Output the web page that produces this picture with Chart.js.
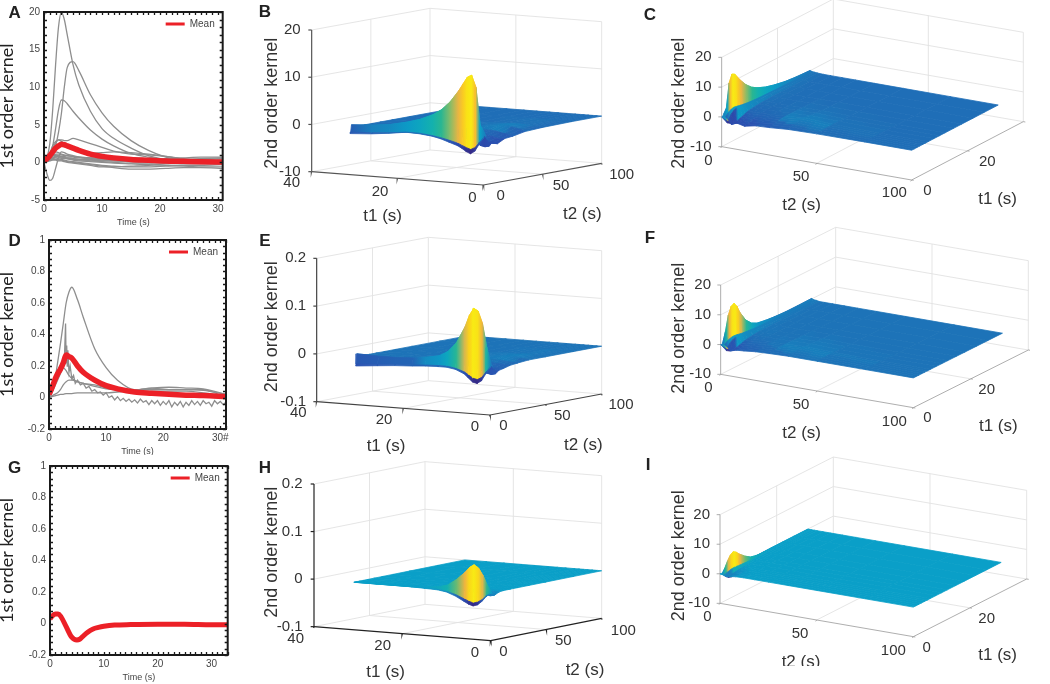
<!DOCTYPE html>
<html>
<head>
<meta charset="utf-8">
<script src="https://cdn.jsdelivr.net/npm/chart.js@4"></script>
<style>
  body { margin: 0; background: #fff; width: 1050px; height: 684px; overflow: hidden; position: relative; }
  canvas { position: absolute; }
</style>
</head>
<body>
<script>
// 1st order kernels
const timeGrid = [0, 0.5, 1, 1.5, 2, 2.5, 3, 3.5, 4, 5, 6, 8, 10, 12, 15, 18, 21, 24, 27, 31];
const timeTicks = [0, 10, 20, 30];

const subjectsA = [
  [0, 0.6, 2.5, 7, 13, 18, 20, 19, 17, 13, 10.3, 6.8, 4.5, 3.2, 1.9, 0.9, 0.4, 0.2, 0.1, 0],
  [0, 0.1, 0.4, 1, 2.2, 4, 6.5, 10, 12.6, 13.4, 12.2, 9, 6.6, 4.8, 2.9, 1.6, 0.7, 0.2, 0, -0.2],
  [0, 0.3, 1, 2.2, 4.5, 7, 8.3, 8.2, 7.8, 6.8, 5.9, 4.3, 3.1, 2.2, 1.2, 0.7, 0.4, 0.2, 0.1, 0],
  [0, 0.3, 1, 1.8, 2.6, 3, 3, 2.9, 2.9, 3.2, 3, 2.5, 2, 1.5, 1.1, 1, 0.8, 0.5, 0.2, 0],
  [0, 0.4, 1.2, 2.2, 2.8, 3, 2.8, 2.5, 2.2, 1.8, 1.5, 1.2, 1.3, 1.4, 1.3, 1.1, 0.8, 0.4, 0.2, 0.1],
  [0, -1.5, -2.4, -2.1, -0.8, 0.6, 1.4, 1.3, 1.1, 0.9, 0.7, 0.5, 0.3, 0.2, 0.1, 0, -0.1, -0.2, -0.2, -0.2],
  [0.2, 0.5, 0.8, 1, 1.1, 1.1, 1, 0.9, 0.9, 0.8, 0.7, 0.6, 0.5, 0.5, 0.4, 0.4, 0.5, 0.6, 0.7, 0.7],
  [0.1, 0.3, 0.5, 0.7, 0.8, 0.8, 0.7, 0.7, 0.6, 0.5, 0.4, 0.2, 0.1, 0, -0.1, -0.1, 0, 0.2, 0.4, 0.5],
  [0, 0.2, 0.4, 0.5, 0.6, 0.5, 0.4, 0.3, 0.2, 0.1, 0, -0.2, -0.4, -0.5, -0.6, -0.6, -0.5, -0.4, -0.4, -0.3],
  [0, 0.1, 0.3, 0.4, 0.4, 0.3, 0.3, 0.2, 0.1, 0, -0.1, -0.3, -0.5, -0.7, -0.9, -0.9, -0.8, -0.7, -0.7, -0.8],
  [0.3, 0.6, 0.9, 1.2, 1.4, 1.3, 1.1, 1, 0.9, 0.8, 0.7, 0.6, 0.6, 0.6, 0.6, 0.5, 0.4, 0.3, 0.3, 0.3],
  [0.1, 0.3, 0.6, 0.9, 1, 0.9, 0.8, 0.6, 0.5, 0.3, 0.2, 0.1, 0, -0.1, -0.2, -0.3, -0.4, -0.5, -0.6, -0.6],
  [0, 0.2, 0.3, 0.4, 0.4, 0.4, 0.5, 0.5, 0.5, 0.5, 0.4, 0.4, 0.3, 0.3, 0.2, 0.2, 0.2, 0.1, 0.1, 0.1],
  [0.1, 0.2, 0.4, 0.6, 0.7, 0.7, 0.6, 0.6, 0.5, 0.4, 0.3, 0.3, 0.2, 0.2, 0.1, 0.1, 0.3, 0.4, 0.5, 0.6],
  [0.2, 0.4, 0.7, 0.9, 0.9, 0.8, 0.8, 0.8, 0.7, 0.7, 0.6, 0.5, 0.4, 0.3, 0.3, 0.2, 0.1, 0, -0.1, -0.1],
  [0, 0.1, 0.2, 0.3, 0.3, 0.2, 0.2, 0.1, 0, -0.1, -0.2, -0.4, -0.6, -0.6, -0.5, -0.4, -0.2, -0.1, 0, 0.2]
];
const meanA = [0.2, 0.5, 0.9, 1.4, 1.9, 2.2, 2.4, 2.35, 2.2, 1.9, 1.6, 1.1, 0.8, 0.6, 0.4, 0.3, 0.2, 0.15, 0.1, 0.05];

const subjectsD = [
  [0, 0.03, 0.1, 0.22, 0.34, 0.47, 0.6, 0.67, 0.7, 0.62, 0.51, 0.31, 0.19, 0.11, 0.05, 0.06, 0.065, 0.06, 0.055, 0.02],
  [0, 0.01, 0.02, 0.03, 0.05, 0.08, 0.1, 0.11, 0.11, 0.1, 0.09, 0.07, 0.055, 0.05, 0.05, 0.05, 0.05, 0.05, 0.05, 0],
  [0, 0.005, 0.01, 0.015, 0.02, 0.02, 0.025, 0.025, 0.025, 0.03, 0.03, 0.03, 0.03, 0.035, 0.045, 0.06, 0.05, 0.05, 0.045, 0.02],
  [0, 0.06, 0.12, 0.17, 0.2, 0.19, 0.17, 0.14, 0.12, 0.1, 0.09, 0.08, 0.06, 0.05, 0.04, 0.04, 0.04, 0.04, 0.03, 0.01]
];
const noisyTimeD = [0, 0.5, 1, 1.5, 2, 2.4, 2.7, 2.9, 3, 3.1, 3.2, 3.3, 3.5, 3.7, 4, 4.3, 4.6, 5, 5.5, 6, 6.5, 7, 7.5, 8, 8.5, 9, 9.5, 10, 10.5, 11, 11.5, 12, 12.5, 13, 13.5, 14, 14.5, 15, 15.5, 16, 16.5, 17, 17.5, 18, 18.5, 19, 19.5, 20, 20.5, 21, 21.5, 22, 22.5, 23, 23.5, 24, 24.5, 25, 25.5, 26, 26.5, 27, 27.5, 28, 28.5, 29, 29.5, 30, 30.5, 31];
const noisyD = [0, 0.03, 0.07, 0.11, 0.15, 0.19, 0.25, 0.47, 0.22, 0.33, 0.2, 0.3, 0.16, 0.2, 0.12, 0.14, 0.09, 0.11, 0.08, 0.09, 0.06, 0.07, 0.04, 0.05, 0.03, 0.035, 0.015, 0.03, 0, 0.01, -0.015, 0.005, -0.02, -0.005, -0.025, -0.01, -0.03, -0.015, -0.035, -0.01, -0.03, -0.02, -0.045, -0.02, -0.04, -0.02, -0.05, -0.025, -0.045, -0.02, -0.06, -0.03, -0.05, -0.025, -0.06, -0.03, -0.05, -0.02, -0.045, -0.025, -0.05, -0.02, -0.04, -0.03, -0.055, -0.02, -0.04, -0.025, -0.045, -0.03];
const meanD = [0.02, 0.06, 0.11, 0.15, 0.18, 0.22, 0.27, 0.26, 0.25, 0.2, 0.16, 0.11, 0.075, 0.055, 0.035, 0.027, 0.02, 0.015, 0.012, 0.005];

const timeG = [0, 0.5, 1, 1.5, 2, 3, 4, 5, 5.5, 6, 7, 8, 9, 10, 12, 15, 20, 25, 30, 33];
const meanG = [0.03, 0.05, 0.06, 0.06, 0.045, -0.02, -0.085, -0.105, -0.1, -0.085, -0.055, -0.035, -0.025, -0.018, -0.01, -0.007, -0.005, -0.005, -0.008, -0.008];

// 2nd order kernels, rows follow t1Grid and columns follow t2Grid
const t1Grid = [0, 1, 2, 3, 4, 5, 6, 8, 10, 12, 15, 18, 22, 26, 31];
const t2Grid = [0, 0.3, 1, 2, 3.5, 5, 8, 12, 18, 25, 35, 50, 75, 100];

const kernelTop = [
  [0, 0, 1, 0.2, -0.6, -2, -1.2, -1.8, -1, -0.8, -0.3, -0.1, 0, 0],
  [-1.5, -1.1, 2.5, 1.2, 0.8, -2.2, -1.5, -1.8, -1.2, -0.6, 0.1, -0.1, 0, 0],
  [-3, -2.2, 10.5, 1.8, 1.6, -2, -1.3, -1.5, -1, -0.4, 0.3, 0, 0, 0],
  [-3.6, -2.7, 13, 2, 2, -1.5, -1, -1, -0.7, -0.2, 0.5, 0.1, 0, 0],
  [-3.2, -2.4, 12.5, 1.8, 1.9, -1.2, -0.8, -0.7, -0.5, 0, 0.7, 0.2, 0, 0],
  [-2.6, -2, 11, 1.6, 1.7, -0.8, -0.5, -0.5, -0.3, 0.1, 0.8, 0.2, 0, 0],
  [-2.1, -1.6, 9.5, 1.4, 1.5, -0.5, -0.4, -0.4, -0.2, 0.1, 0.7, 0.2, 0, 0],
  [-1.5, -1.1, 7, 1.1, 1.2, -0.2, -0.2, -0.2, -0.1, 0.1, 0.5, 0.2, 0, 0],
  [-0.9, -0.7, 5.2, 0.9, 1, 0, -0.1, -0.1, 0, 0.1, 0.3, 0.1, 0, 0],
  [-0.5, -0.4, 4, 0.8, 0.9, 0.1, 0, 0, 0, 0.1, 0.2, 0.1, 0, 0],
  [-0.2, -0.1, 2.8, 0.7, 0.7, 0.2, 0.1, 0, 0, 0, 0.1, 0, 0, 0],
  [-0.1, -0.1, 2, 0.6, 0.6, 0.2, 0.1, 0, 0, 0, 0, 0, 0, 0],
  [-0.6, -0.5, 1.2, 0.5, 0.5, 0.2, 0.1, 0, 0, 0, 0, 0, 0, 0],
  [-1, -0.8, 0.8, 0.4, 0.3, 0.2, 0, 0, 0, 0, 0, 0, 0, 0],
  [-1.3, -1, 0.5, 0.3, 0.2, 0.1, 0, 0, 0, 0, 0, 0, 0, 0]
];
const kernelMid = [
  [0, 0, 0.5, 0.1, -0.4, -1.6, -1, -0.8, -0.4, -0.2, 0, 0, 0, 0],
  [-1.5, -1.1, 4, 1, 0.6, -1.8, -1.1, -0.8, -0.4, -0.2, 0.1, 0, 0, 0],
  [-3, -2.3, 9, 1.4, 1.2, -1.6, -1, -0.7, -0.3, -0.1, 0.2, 0.1, 0, 0],
  [-3.6, -2.8, 11.5, 1.6, 1.5, -1.2, -0.7, -0.5, -0.2, 0, 0.4, 0.1, 0, 0],
  [-3.4, -2.6, 12, 1.5, 1.5, -0.9, -0.5, -0.3, -0.1, 0.1, 0.5, 0.2, 0, 0],
  [-2.6, -2, 10.5, 1.3, 1.2, -0.6, -0.3, -0.2, 0, 0.1, 0.5, 0.2, 0, 0],
  [-1.8, -1.4, 8, 1.1, 1, -0.4, -0.2, -0.1, 0, 0.1, 0.4, 0.1, 0, 0],
  [-1, -0.8, 4.5, 0.9, 0.8, -0.1, 0, 0, 0, 0.1, 0.3, 0.1, 0, 0],
  [-0.7, -0.5, 2.5, 0.7, 0.7, 0.1, 0.1, 0, 0, 0, 0.2, 0.1, 0, 0],
  [-0.7, -0.5, 1.5, 0.6, 0.5, 0.1, 0.1, 0, 0, 0, 0.1, 0, 0, 0],
  [-0.8, -0.6, 1, 0.5, 0.4, 0.1, 0, 0, 0, 0, 0, 0, 0, 0],
  [-1, -0.8, 0.7, 0.4, 0.3, 0.1, 0, 0, 0, 0, 0, 0, 0, 0],
  [-1.2, -0.9, 0.5, 0.3, 0.2, 0.1, 0, 0, 0, 0, 0, 0, 0, 0],
  [-1.5, -1.2, 0.5, 0.3, 0.2, 0, 0, 0, 0, 0, 0, 0, 0, 0],
  [-1.9, -1.5, 0.6, 0.3, 0.2, 0, 0, 0, 0, 0, 0, 0, 0, 0]
];
const kernelLow = [
  [0, 0, 0, -0.3, -0.6, -0.4, -0.1, 0, 0, 0, 0, 0, 0, 0],
  [-0.8, -0.6, 1.5, 0.1, -0.8, -0.5, -0.1, 0, 0, 0, 0, 0, 0, 0],
  [-1.9, -1.5, 3.5, 0.4, -0.6, -0.4, -0.1, 0, 0, 0, 0, 0, 0, 0],
  [-2.7, -2.1, 5, 0.6, -0.4, -0.3, -0.1, 0, 0, 0, 0, 0, 0, 0],
  [-3, -2.4, 5.6, 0.6, -0.3, -0.2, 0, 0, 0, 0, 0, 0, 0, 0],
  [-2.7, -2.1, 5, 0.5, -0.2, -0.1, 0, 0, 0, 0, 0, 0, 0, 0],
  [-2.2, -1.7, 3.9, 0.4, -0.1, 0, 0, 0, 0, 0, 0, 0, 0, 0],
  [-1.2, -0.9, 2.2, 0.3, 0, 0, 0, 0, 0, 0, 0, 0, 0, 0],
  [-0.5, -0.4, 0.9, 0.1, 0, 0, 0, 0, 0, 0, 0, 0, 0, 0],
  [-0.2, -0.1, 0.4, 0.1, 0, 0, 0, 0, 0, 0, 0, 0, 0, 0],
  [-0.1, 0, 0.1, 0, 0, 0, 0, 0, 0, 0, 0, 0, 0, 0],
  [0, 0, 0, 0, 0, 0, 0, 0, 0, 0, 0, 0, 0, 0],
  [0, 0, 0, 0, 0, 0, 0, 0, 0, 0, 0, 0, 0, 0],
  [0, 0, 0, 0, 0, 0, 0, 0, 0, 0, 0, 0, 0, 0],
  [0, 0, 0, 0, 0, 0, 0, 0, 0, 0, 0, 0, 0, 0]
];

const zTicksLarge = [-10, 0, 10, 20];
const zTicksSmall = [-0.1, 0, 0.1, 0.2];
const t1Ticks = [0, 20, 40];
const t2Ticks = [0, 50, 100];

const parulaStops = [
  [0, [53, 42, 135]], [0.1, [42, 79, 176]], [0.22, [31, 111, 183]], [0.35, [10, 159, 200]],
  [0.45, [18, 176, 176]], [0.55, [47, 184, 138]], [0.65, [140, 188, 102]], [0.75, [222, 184, 74]],
  [0.82, [243, 179, 59]], [0.9, [251, 208, 28]], [1, [248, 234, 20]]
];

function parula(f) {
  f = Math.max(0, Math.min(1, f));
  for (let i = 1; i < parulaStops.length; i++) {
    if (f <= parulaStops[i][0]) {
      const [a, ca] = parulaStops[i - 1];
      const [b, cb] = parulaStops[i];
      const k = (f - a) / (b - a);
      return `rgb(${ca.map((c, n) => Math.round(c + (cb[n] - c) * k)).join(',')})`;
    }
  }
  return 'rgb(248,234,20)';
}

// ---------- left column ----------
const greyLine = '#8e8e8e';
const red = '#ec2027';

const framePlugin = {
  id: 'frame',
  afterLayout(chart) {
    // keep the legend inside the top right corner of the box
    const legend = chart.legend;
    legend.left = chart.chartArea.right - legend.width + 2;
    legend.top = chart.chartArea.top;
  },
  afterDraw(chart, args, opts) {
    const { ctx, chartArea: a, scales: { x, y } } = chart;
    ctx.save();
    ctx.strokeStyle = '#1a1a1a';
    ctx.lineWidth = 1.3;
    const tickMarks = (scale, step, len, horizontal) => {
      const count = Math.floor((scale.max - scale.min) / step + 1e-6);
      for (let n = 0; n <= count; n++) {
        const p = Math.round(scale.getPixelForValue(scale.min + n * step)) + 0.5;
        ctx.beginPath();
        if (horizontal) {
          ctx.moveTo(p, a.bottom); ctx.lineTo(p, a.bottom - len);
          ctx.moveTo(p, a.top); ctx.lineTo(p, a.top + len);
        } else {
          ctx.moveTo(a.left, p); ctx.lineTo(a.left + len, p);
          ctx.moveTo(a.right, p); ctx.lineTo(a.right - len, p);
        }
        ctx.stroke();
      }
    };
    tickMarks(x, opts.minorX, 3, true);
    tickMarks(y, opts.minorY, 3, false);
    ctx.lineWidth = 2;
    ctx.strokeRect(a.left, a.top, a.right - a.left, a.bottom - a.top);
    ctx.font = 'bold 17px "Liberation Sans"';
    ctx.fillStyle = '#222';
    ctx.textAlign = 'center';
    ctx.textBaseline = 'middle';
    ctx.fillText(opts.letter, 14.7, opts.letterY);
    ctx.restore();
  }
};

function curve(times, values) {
  return times.map((t, i) => ({ x: t, y: values[i] }));
}

function kernelChart(id, cfg) {
  const canvas = document.getElementById(id);
  canvas.width = 240;
  canvas.height = 230;
  canvas.style.left = '0px';
  canvas.style.top = cfg.top + 'px';
  const tickFont = { family: 'Liberation Sans', size: 10 };
  return new Chart(canvas, {
    type: 'scatter',
    data: { datasets: cfg.datasets },
    options: {
      responsive: false,
      animation: false,
      events: [],
      layout: { padding: { top: cfg.box[1], right: 240 - cfg.box[2], bottom: 230 - cfg.box[3] - 28, left: 0 } },
      elements: { point: { radius: 0 } },
      plugins: {
        tooltip: { enabled: false },
        frame: { minorX: cfg.minorX, minorY: cfg.minorY, letter: cfg.letter, letterY: cfg.letterY },
        legend: {
          position: 'chartArea',
          align: 'start',
          labels: {
            usePointStyle: true,
            pointStyle: 'line',
            pointStyleWidth: 19,
            padding: 7,
            color: '#444',
            font: { family: 'Liberation Sans', size: 10 },
            generateLabels(chart) {
              return Chart.defaults.plugins.legend.labels.generateLabels(chart)
                .filter(item => item.text === 'Mean')
                .map(item => ({ ...item, lineWidth: 3 }));
            }
          }
        }
      },
      scales: {
        x: {
          type: 'linear',
          min: 0,
          max: cfg.xMax,
          afterFit(scale) { scale.height = 28; },
          afterBuildTicks(scale) { scale.ticks = timeTicks.map(value => ({ value })); },
          grid: { display: false, drawTicks: false },
          border: { display: false },
          ticks: {
            maxRotation: 0,
            autoSkip: false,
            padding: 3,
            color: '#444',
            font: tickFont,
            callback: cfg.xLabel || (v => v)
          },
          title: { display: true, text: 'Time (s)', color: '#444', font: { family: 'Liberation Sans', size: 9 }, padding: { top: 0, bottom: 0 } }
        },
        y: {
          min: cfg.yMin,
          max: cfg.yMax,
          afterFit(scale) { scale.width = cfg.box[0]; },
          grid: { display: false, drawTicks: false },
          border: { display: false },
          ticks: {
            stepSize: cfg.majorY,
            padding: 4,
            color: '#444',
            font: tickFont,
            callback: v => String(Math.round(v * 10) / 10)
          },
          title: { display: true, text: '1st order kernel', color: '#222', font: { family: 'Lato', size: 18, lineHeight: 0.85 }, padding: 0 }
        }
      }
    },
    plugins: [framePlugin]
  });
}

function greyDataset(times, values, n, jagged) {
  return {
    label: 'Subject ' + n,
    data: curve(times, values),
    showLine: true,
    borderColor: greyLine,
    borderWidth: 1.3,
    cubicInterpolationMode: jagged ? 'default' : 'monotone'
  };
}

function meanDataset(times, values, width) {
  return {
    label: 'Mean',
    data: curve(times, values),
    showLine: true,
    borderColor: red,
    borderWidth: width,
    cubicInterpolationMode: 'monotone'
  };
}

// ---------- 3D panels, coordinates in units of a third of a pixel ----------
const panels = [
  { id: 'panelB', left: 240, top: 0, kernel: kernelTop, zFactor: 1, front: 'corner', zTicks: zTicksLarge, letter: 'B', letterAt: [75, 37],
    origin: [730, 555], t1End: [215, 515], t2End: [1085, 490], zTopY: 90, axisColor: '#555', axisWidth: 1.2,
    zLabelX: 182, ticksFirst: [[697, 593], [420, 575], [155, 548]], ticksSecond: [[782, 587], [963, 557], [1145, 525]],
    titleFirst: [428, 650], titleSecond: [1027, 642], titleZ: [95, 310] },
  { id: 'panelC', left: 630, top: 0, kernel: kernelTop, zFactor: 1, front: 'side', zTicks: zTicksLarge, letter: 'C', letterAt: [0, 45],
    origin: [215, 440], t1End: [550, 265], t2End: [785, 540], zTopY: 172, axisColor: '#999', axisWidth: 0.8,
    zLabelX: 185, ticksFirst: [[832, 572], [1012, 487], [1175, 398]], ticksSecond: [[175, 482], [453, 532], [733, 580]],
    titleFirst: [1043, 597], titleSecond: [455, 617], titleZ: [88, 310] },
  { id: 'panelE', left: 240, top: 225, kernel: kernelMid, zFactor: 0.01, front: 'corner', zTicks: zTicksSmall, letter: 'E', letterAt: [75, 48],
    origin: [750, 570], t1End: [230, 530], t2End: [1085, 507], zTopY: 100, axisColor: '#444', axisWidth: 1.2,
    zLabelX: 198, ticksFirst: [[705, 607], [432, 585], [175, 565]], ticksSecond: [[790, 603], [967, 572], [1143, 540]],
    titleFirst: [438, 663], titleSecond: [1030, 660], titleZ: [95, 305] },
  { id: 'panelF', left: 630, top: 225, kernel: kernelMid, zFactor: 1, front: 'side', zTicks: zTicksLarge, letter: 'F', letterAt: [0, 40],
    origin: [212, 448], t1End: [557, 275], t2End: [790, 548], zTopY: 180, axisColor: '#999', axisWidth: 0.8,
    zLabelX: 183, ticksFirst: [[832, 580], [1010, 495], [1178, 408]], ticksSecond: [[175, 490], [453, 540], [733, 590]],
    titleFirst: [1045, 605], titleSecond: [455, 625], titleZ: [88, 310] },
  { id: 'panelH', left: 240, top: 454, kernel: kernelLow, zFactor: 0.01, front: 'corner', zTicks: zTicksSmall, letter: 'H', letterAt: [75, 42],
    origin: [752, 560], t1End: [222, 518], t2End: [1085, 493], zTopY: 90, axisColor: '#222', axisWidth: 1.2,
    zLabelX: 188, ticksFirst: [[705, 597], [428, 575], [167, 555]], ticksSecond: [[790, 593], [970, 562], [1150, 530]],
    titleFirst: [437, 655], titleSecond: [1035, 650], titleZ: [95, 295] },
  { id: 'panelI', left: 630, top: 454, height: 212, kernel: kernelLow, zFactor: 1, front: 'side', zTicks: zTicksLarge, letter: 'I', letterAt: [-6, 33],
    origin: [210, 448], t1End: [550, 275], t2End: [790, 548], zTopY: 182, axisColor: '#999', axisWidth: 0.8,
    zLabelX: 180, ticksFirst: [[830, 582], [1010, 495], [1175, 410]], ticksSecond: [[172, 490], [450, 540], [730, 590]],
    titleFirst: [1043, 605], titleSecond: [453, 625], titleZ: [88, 305] }
];

function project(p, t1, t2, z) {
  const zMin = p.zTicks[0];
  const zMax = p.zTicks[p.zTicks.length - 1];
  // the top tick was read on the z axis, which stands on a different floor corner per view
  const floorY = p.front === 'corner' ? p.t1End[1] : p.origin[1];
  const zStep = (floorY - p.zTopY) / (zMax - zMin);
  return {
    x: p.origin[0] + (p.t1End[0] - p.origin[0]) * t1 / 40 + (p.t2End[0] - p.origin[0]) * t2 / 100,
    y: p.origin[1] + (p.t1End[1] - p.origin[1]) * t1 / 40 + (p.t2End[1] - p.origin[1]) * t2 / 100 - (z - zMin) * zStep
  };
}

function surfaceLayers(p) {
  const values = p.kernel.flat();
  const lo = Math.min(...values);
  const hi = Math.max(...values);
  const shade = z => parula((z - lo) / (hi - lo));
  const strongest = (a, b) => (Math.abs(a) > Math.abs(b) ? a : b);
  const layers = [];
  const rows = [];
  for (let i = t1Grid.length - 2; i >= 0; i--) rows.push(i);
  const cols = [];
  for (let j = 0; j < t2Grid.length - 1; j++) cols.push(j);
  if (p.front === 'corner') cols.reverse();

  rows.forEach(i => {
    cols.forEach(j => {
      const corner = (a, b) => project(p, t1Grid[a], t2Grid[b], p.kernel[a][b] * p.zFactor);
      const pts = [corner(i, j), corner(i, j + 1), corner(i + 1, j + 1), corner(i + 1, j), corner(i, j)];
      const colourA = shade(strongest(p.kernel[i][j], p.kernel[i][j + 1]));
      const colourB = shade(strongest(p.kernel[i + 1][j], p.kernel[i + 1][j + 1]));
      const paint = ctx => {
        if (colourA === colourB) return colourA;
        const { x } = ctx.chart.scales;
        // side to side only, so the colour bands stay upright like the original facets
        const x0 = x.getPixelForValue((pts[0].x + pts[1].x) / 2);
        const x1 = x.getPixelForValue((pts[2].x + pts[3].x) / 2);
        if (!Number.isFinite(x0) || !Number.isFinite(x1) || x0 === x1) return colourA;
        const g = ctx.chart.ctx.createLinearGradient(x0, 0, x1, 0);
        g.addColorStop(0, colourA);
        g.addColorStop(1, colourB);
        return g;
      };
      layers.push({
        data: pts,
        showLine: true,
        fill: 'shape',
        tension: 0,
        backgroundColor: paint,
        borderColor: paint,
        borderWidth: 0.8
      });
    });
  });
  return layers;
}

function segment(points, color, width) {
  return { data: points, showLine: true, fill: false, tension: 0, borderColor: color, borderWidth: width };
}

function boxLayers(p) {
  const light = '#e2e2e2';
  const out = [];
  const zMin = p.zTicks[0];
  const zMax = p.zTicks[p.zTicks.length - 1];
  const corner = p.front === 'corner';
  const wallT2 = corner ? 100 : 0;
  p.zTicks.forEach(z => {
    if (corner) {
      out.push(segment([project(p, 40, 0, z), project(p, 40, 100, z), project(p, 0, 100, z)], light, 0.9));
    } else {
      out.push(segment([project(p, 0, 0, z), project(p, 40, 0, z), project(p, 40, 100, z)], light, 0.9));
    }
  });
  const up = (t1, t2) => segment([project(p, t1, t2, zMin), project(p, t1, t2, zMax)], light, 0.9);
  out.push(up(40, wallT2), up(20, wallT2), up(40, 50), up(corner ? 0 : 40, 100));
  out.push(segment([project(p, 20, 0, zMin), project(p, 20, 100, zMin)], light, 0.9));
  out.push(segment([project(p, 0, 50, zMin), project(p, 40, 50, zMin)], light, 0.9));
  return out;
}

function axisLayers(p) {
  const out = [];
  const zMin = p.zTicks[0];
  const zMax = p.zTicks[p.zTicks.length - 1];
  const c = p.axisColor;
  const w = p.axisWidth;
  const zT1 = p.front === 'corner' ? 40 : 0;
  out.push(segment([project(p, zT1, 0, zMin), project(p, zT1, 0, zMax)], c, w));
  p.zTicks.forEach(z => {
    const at = project(p, zT1, 0, z);
    out.push(segment([{ x: at.x - 10, y: at.y }, at], c, w));
  });
  if (p.front === 'corner') {
    out.push(segment([project(p, 40, 0, zMin), project(p, 0, 0, zMin), project(p, 0, 100, zMin)], c, w));
    t1Ticks.forEach(t => {
      const at = project(p, t, 0, zMin);
      out.push(segment([at, { x: at.x - 1, y: at.y + 4 }], c, w));
    });
    t2Ticks.forEach(t => {
      const at = project(p, 0, t, zMin);
      out.push(segment([at, { x: at.x + 1, y: at.y + 4 }], c, w));
    });
  } else {
    out.push(segment([project(p, 0, 0, zMin), project(p, 0, 100, zMin), project(p, 40, 100, zMin)], c, w));
    t2Ticks.forEach(t => {
      const at = project(p, 0, t, zMin);
      out.push(segment([at, { x: at.x - 3, y: at.y + 4 }], c, w));
    });
    t1Ticks.forEach(t => {
      const at = project(p, t, 100, zMin);
      out.push(segment([at, { x: at.x + 6, y: at.y + 1 }], c, w));
    });
  }
  return out;
}

const panelText = {
  id: 'panelText',
  afterDraw(chart, args, opts) {
    const p = opts.panel;
    const { ctx, scales: { x, y } } = chart;
    const text = (str, at, font, align) => {
      ctx.font = font;
      ctx.textAlign = align || 'center';
      ctx.textBaseline = 'middle';
      ctx.fillText(str, x.getPixelForValue(at[0]), y.getPixelForValue(at[1]));
    };
    const tick = '15px "Liberation Sans"';
    const title = '17px "Liberation Sans"';
    ctx.save();
    ctx.fillStyle = '#333';
    p.zTicks.forEach(z => {
      text(String(z), [p.zLabelX, project(p, p.front === 'corner' ? 40 : 0, 0, z).y], tick, 'right');
    });
    t1Ticks.forEach((t, i) => text(String(t), p.ticksFirst[i], tick));
    t2Ticks.forEach((t, i) => text(String(t), p.ticksSecond[i], tick));
    text('t1 (s)', p.titleFirst, title);
    text('t2 (s)', p.titleSecond, title);
    ctx.fillStyle = '#222';
    text(p.letter, p.letterAt, 'bold 17px "Liberation Sans"');
    ctx.translate(x.getPixelForValue(p.titleZ[0]), y.getPixelForValue(p.titleZ[1]));
    ctx.rotate(-Math.PI / 2);
    ctx.font = '18px "Liberation Sans"';
    ctx.fillStyle = '#333';
    ctx.textAlign = 'center';
    ctx.fillText('2nd order kernel', 0, 0);
    ctx.restore();
  }
};

function panelChart(p) {
  const canvas = document.getElementById(p.id);
  const height = p.height || 230;
  const width = 1050 - p.left < 410 ? 1050 - p.left : 400;
  canvas.width = width;
  canvas.height = height;
  canvas.style.left = p.left + 'px';
  canvas.style.top = p.top + 'px';
  const xMin = p.left === 630 ? -60 : 0;
  // the chart paints the first dataset last
  const datasets = [...boxLayers(p), ...axisLayers(p), ...surfaceLayers(p)].reverse();
  return new Chart(canvas, {
    type: 'scatter',
    data: { datasets },
    options: {
      responsive: false,
      animation: false,
      events: [],
      layout: { padding: 0 },
      elements: { point: { radius: 0 } },
      plugins: {
        legend: { display: false },
        tooltip: { enabled: false },
        panelText: { panel: p }
      },
      scales: {
        x: { type: 'linear', display: false, min: xMin, max: xMin + width * 3 },
        y: { type: 'linear', display: false, min: 0, max: height * 3, reverse: true }
      }
    },
    plugins: [panelText]
  });
}

// ---------- page ----------
['chartA', 'chartD', 'chartG', ...panels.map(p => p.id)].forEach(id => {
  const c = document.createElement('canvas');
  c.id = id;
  document.body.appendChild(c);
});

kernelChart('chartA', {
  top: 0, box: [44, 12, 222.7, 200], xMax: 30.8, yMin: -5, yMax: 20, majorY: 5, minorY: 1, minorX: 1, letter: 'A', letterY: 13,
  datasets: [meanDataset(timeGrid, meanA, 5.5), ...subjectsA.map((s, n) => greyDataset(timeGrid, s, n + 1))]
});
kernelChart('chartD', {
  top: 225, box: [49, 15, 226, 204], xMax: 31, yMin: -0.2, yMax: 1, majorY: 0.2, minorY: 0.04, minorX: 1, letter: 'D', letterY: 16,
  xLabel: v => (v === 30 ? '30#' : v),
  datasets: [
    meanDataset(timeGrid, meanD, 5.5),
    greyDataset(noisyTimeD, noisyD, 5, true),
    ...subjectsD.map((s, n) => greyDataset(timeGrid, s, n + 1))
  ]
});
kernelChart('chartG', {
  top: 454, box: [50, 12, 227.7, 201], xMax: 33, yMin: -0.2, yMax: 1, majorY: 0.2, minorY: 0.04, minorX: 1, letter: 'G', letterY: 14,
  datasets: [meanDataset(timeG, meanG, 5)]
});

panels.forEach(panelChart);
</script>
</body>
</html>
